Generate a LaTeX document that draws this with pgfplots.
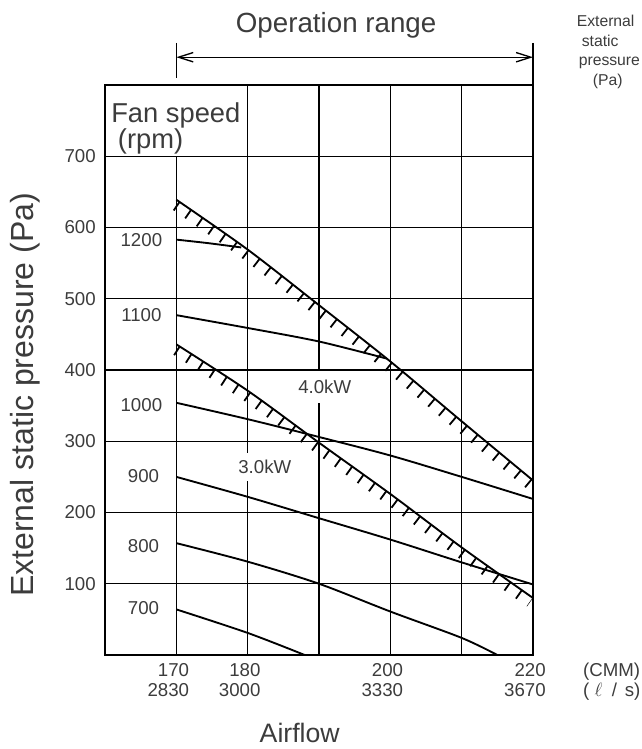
\documentclass[border=0pt]{standalone}
\usepackage{fontspec}
\setmainfont{Liberation Sans}
\usepackage{pgfplots}
\usepackage{pgfplotstable}
\pgfplotsset{compat=1.18}
\usetikzlibrary{arrows.meta}
\definecolor{txt}{HTML}{3C3C3C}
\pgfplotstableread{
x y
170 639
180 569
190 491
200 412
210 328
220 245
}\limitfour
\pgfplotstableread{
x y
170 436
180 371
190 298
200 226
210 151
220 80
}\limitthree
\begin{document}
\begin{tikzpicture}
\begin{axis}[name=ax, scale only axis, width=321pt, height=427.5pt,
  xmin=160, xmax=220, ymin=0, ymax=800, clip=false,
  axis line style={line width=1.1pt, black},
  xtick={170,180,200,220},
  xticklabels={{170\\2830},{180\\3000},{200\\3330},{220\\3670}},
  ytick={100,200,300,400,500,600,700},
  major tick length=0pt,
  ymajorgrids, grid style={line width=1.1pt, black},
  xticklabel style={align=right, anchor=north east, inner sep=0pt, xshift=9.75pt, yshift=-6pt, font=\fontsize{14}{15}\selectfont, text=txt},
  yticklabel style={anchor=east, inner sep=0pt, xshift=-6.75pt, font=\fontsize{14}{15}\selectfont, text=txt},
  /pgf/number format/assume math mode=true,
]
% vertical grid lines
\draw[line width=1.1pt] (axis cs:170,0) -- (axis cs:170,700);
\draw[line width=1.1pt] (axis cs:180,0) -- (axis cs:180,800);
\draw[line width=1.1pt] (axis cs:190,0) -- (axis cs:190,800);
\draw[line width=1.1pt] (axis cs:200,0) -- (axis cs:200,800);
\draw[line width=1.1pt] (axis cs:210,0) -- (axis cs:210,800);

% fan curves
\addplot[line width=1.4pt, black, smooth] coordinates {(170,583) (174.5,578) (179.1,572)};
\addplot[line width=1.4pt, black, smooth] coordinates {(170,477) (180,459) (190,440) (199.5,416)};
\addplot[line width=1.4pt, black, smooth] coordinates {(170,354) (180,331) (190,306) (200,280) (210,250) (220,219)};
\addplot[line width=1.4pt, black, smooth] coordinates {(170,250) (180,222) (190,192) (200,162) (210,130) (220,99)};
\addplot[line width=1.4pt, black, smooth] coordinates {(170,157) (180,131) (190,100) (200,61) (210,24) (215,0)};
\addplot[line width=1.4pt, black, smooth] coordinates {(170,64) (180,31) (188,0)};

% limit lines with hatching (hatch = thick dashed copy shifted to the lower side)
\addplot[line width=1.4pt, black, smooth] table {\limitfour};
\addplot[line width=7.8pt, black, smooth, dash pattern=on 1.35pt off 9.15pt, dash phase=8pt, xshift=-2.4pt, yshift=-3.05pt] table {\limitfour};
\addplot[line width=1.4pt, black, smooth] table {\limitthree};
\addplot[line width=7.8pt, black, smooth, dash pattern=on 1.35pt off 9.15pt, dash phase=8pt, xshift=-2.25pt, yshift=-3.15pt] table {\limitthree};

% capacity labels
\node[fill=white, inner xsep=2pt, inner ysep=7pt, font=\fontsize{14}{15}\selectfont, text=txt] at (axis cs:190.8,376) {4.0kW};
\node[fill=white, inner xsep=2pt, inner ysep=5.5pt, font=\fontsize{14}{15}\selectfont, text=txt] at (axis cs:182.4,264) {3.0kW};

% fan speed labels
\node[font=\fontsize{14}{15}\selectfont, text=txt] at (axis cs:165.1,583) {1200};
\node[font=\fontsize{14}{15}\selectfont, text=txt] at (axis cs:165.1,477) {1100};
\node[font=\fontsize{14}{15}\selectfont, text=txt] at (axis cs:165.1,351) {1000};
\node[font=\fontsize{14}{15}\selectfont, text=txt] at (axis cs:165.4,251) {900};
\node[font=\fontsize{14}{15}\selectfont, text=txt] at (axis cs:165.4,153) {800};
\node[font=\fontsize{14}{15}\selectfont, text=txt] at (axis cs:165.4,66) {700};

\node[anchor=north west, inner sep=0pt, align=left, font=\fontsize{20.5}{17.25}\selectfont, text=txt] at (axis cs:160.84,776) {Fan speed\\\hspace*{5pt}(rpm)};

% titles
\node[anchor=base, inner sep=0pt, font=\fontsize{20.8}{22}\selectfont, text=txt] at (axis cs:192.4,873) {Operation range};
\draw[line width=1pt, {Straight Barb[length=11pt,width=7pt]}-{Straight Barb[length=11pt,width=7pt]}] (axis cs:170,839) -- (axis cs:220,839);
\draw[line width=1pt] (axis cs:170,859) -- (axis cs:170,810);
\draw[line width=1pt] (axis cs:220,859) -- (axis cs:220,800);

\node[anchor=north west, inner sep=0pt, align=left, font=\fontsize{11.8}{14.6}\selectfont, text=txt] at (axis cs:226.1,898) {External\\\hspace*{3.75pt}static\\\hspace*{1.5pt}pressure\\\hspace*{12pt}(Pa)};

\node[anchor=north west, inner sep=0pt, align=left, font=\fontsize{14}{15}\selectfont, text=txt] at ([yshift=-6pt]axis cs:227,0) {(CMM)\\(\hspace{4pt}$\ell$\hspace{3pt} / \hspace{2pt}s)};

\node[rotate=90, inner sep=0pt, font=\fontsize{24}{25}\selectfont, text=txt] at ([xshift=-60pt]axis cs:160,365) {External static pressure (Pa)};
\node[anchor=base, inner sep=0pt, font=\fontsize{20}{22}\selectfont, text=txt] at ([yshift=-65.25pt]axis cs:187.3,0) {Airflow};
\end{axis}
\pgfresetboundingbox
\path[use as bounding box] ([xshift=-78.75pt,yshift=-70.5pt]ax.south west) rectangle ++(481.5pt,561.75pt);
\end{tikzpicture}
\end{document}
